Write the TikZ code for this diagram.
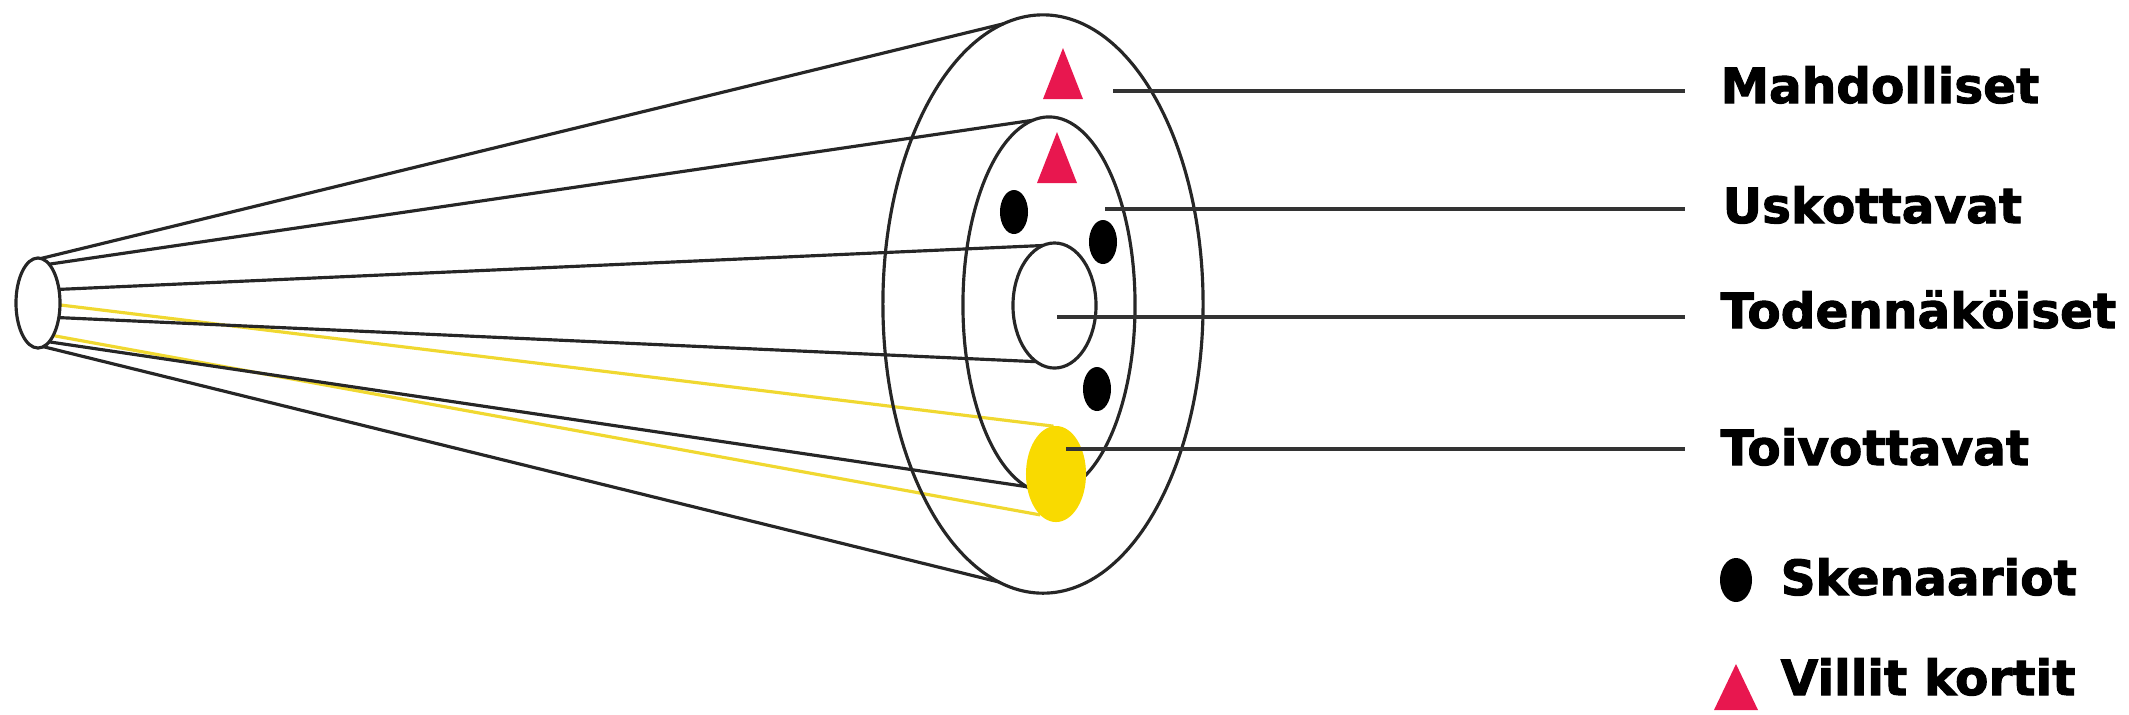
\documentclass[tikz,border=0pt]{standalone}
\usepackage{fontspec}
\newfontfamily\labfont{DejaVu Sans}[BoldFeatures={FakeBold=2}]
\usetikzlibrary{shapes.geometric,backgrounds}
\definecolor{wildred}{HTML}{E8174F}
\definecolor{hopeyel}{HTML}{F9DA00}
\definecolor{hopeline}{HTML}{F0D830}
\tikzset{
  ring/.style={ellipse,draw=black!85,line width=0.9pt,inner sep=0pt,outer sep=0pt},
  cone/.style={draw=black!85,line width=0.9pt},
  yline/.style={draw=hopeline,line width=0.9pt},
  lead/.style={draw=black!80,line width=1pt},
  scen/.style={ellipse,fill=black,inner sep=0pt,outer sep=0pt,minimum width=0.28cm,minimum height=0.44cm},
  wild/.style={fill=wildred},
  lab/.style={anchor=base west,inner sep=0pt,font=\labfont\bfseries\fontsize{13.8pt}{16pt}\selectfont}
}
\begin{document}
\begin{tikzpicture}[x=0.01cm,y=-0.01cm]
\useasboundingbox (0,0) rectangle (2129,714);
% ellipses
\node[ring,minimum width=0.44cm,minimum height=0.90cm] (S) at (38,303) {};
\node[ring,minimum width=3.20cm,minimum height=5.78cm] (O) at (1043,304) {};
\node[ring,minimum width=1.72cm,minimum height=3.76cm] (M) at (1049,305) {};
\node[ring,minimum width=0.83cm,minimum height=1.25cm] (I) at (1054.5,305.5) {};
\node[ellipse,fill=hopeyel,inner sep=0pt,outer sep=0pt,minimum width=0.60cm,minimum height=0.96cm] (Y) at (1056,474) {};
% cone lines
\begin{pgfonlayer}{background}
\draw[cone] (S.86) -- (O.98.7);
\draw[cone] (S.74.6) -- (M.95.2);
\draw[cone] (S.33.7) -- (I.101.5);
\draw[yline] (S.-5) -- (Y.93.7);
\draw[cone] (S.-35) -- (I.252.8);
\draw[yline] (S.-65) -- (Y.249.6);
\draw[cone] (S.-74.6) -- (M.263.2);
\draw[cone] (S.-83.5) -- (O.261.3);
\end{pgfonlayer}
% scenarios
\node[scen] (d1) at (1014,212) {};
\node[scen] (d2) at (1103,242) {};
\node[scen] (d3) at (1097,389) {};
% wild cards
\fill[wild] (1063,48) -- (1083,99) -- (1043,99) -- cycle;
\fill[wild] (1057,132) -- (1077,183) -- (1037,183) -- cycle;
% leader lines and labels
\coordinate (a0) at (1113,91);  \coordinate (a1) at (1685,91);
\coordinate (b0) at (1105,209); \coordinate (b1) at (1685,209);
\coordinate (c0) at (1057,317); \coordinate (c1) at (1685,317);
\coordinate (e0) at (1066,449); \coordinate (e1) at (1685,449);
\draw[lead] (a0) -- (a1);
\draw[lead] (b0) -- (b1);
\draw[lead] (c0) -- (c1);
\draw[lead] (e0) -- (e1);
\node[lab] (ta) at (1720,103) {Mahdolliset};
\node[lab] (tb) at (1722,223) {Uskottavat};
\node[lab] (tc) at (1720,328) {Todennäköiset};
\node[lab] (te) at (1720,465) {Toivottavat};
% legend
\node[ellipse,fill=black,inner sep=0pt,minimum width=0.32cm,minimum height=0.44cm] (ld) at (1736,580) {};
\node[lab] (tl1) at (1780,595) {Skenaariot};
\fill[wild] (1736,664) -- (1758,710) -- (1714,710) -- cycle;
\node[lab] (tl2) at (1780,695) {Villit kortit};
\end{tikzpicture}
\end{document}
